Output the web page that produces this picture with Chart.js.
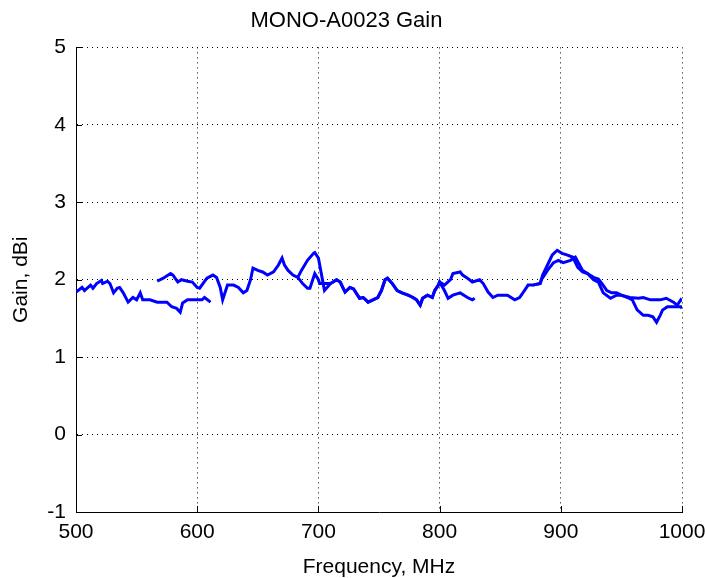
<!DOCTYPE html>
<html>
<head>
<meta charset="utf-8">
<script src="https://cdn.jsdelivr.net/npm/chart.js@4"></script>
<style>
  body { margin: 0; background: #fff; }
</style>
</head>
<body>
<canvas id="myChart" width="705" height="578"></canvas>
<script>
// sweep 1: 500-611 MHz
const freq1 = [500, 505, 507, 512, 514, 517, 521, 522, 526, 528, 531, 534, 536, 539, 543, 547, 550, 553, 555, 561, 567, 575, 579, 583, 586, 588, 592, 600, 604, 606, 611];
const gain1 = [1.84, 1.90, 1.86, 1.93, 1.89, 1.95, 1.99, 1.95, 1.98, 1.95, 1.83, 1.89, 1.90, 1.83, 1.71, 1.77, 1.74, 1.83, 1.74, 1.74, 1.71, 1.71, 1.65, 1.63, 1.58, 1.70, 1.74, 1.74, 1.74, 1.77, 1.71];

// sweep 2: 567-829 MHz
const freq2 = [567, 572, 578, 580, 584, 587, 592, 596, 600, 602, 608, 613, 616, 619, 621, 625, 630, 634, 638, 641, 644, 646, 650, 654, 658, 663, 667, 670, 672, 675, 679, 683, 687, 691, 693, 697, 700, 701, 705, 710, 715, 718, 722, 726, 729, 734, 737, 741, 745, 749, 752, 755, 757, 761, 765, 769, 774, 778, 781, 784, 786, 790, 794, 796, 799, 800, 804, 807, 811, 817, 823, 827, 829];
const gain2 = [1.98, 2.02, 2.08, 2.06, 1.97, 2.00, 1.98, 1.97, 1.90, 1.89, 2.02, 2.06, 2.03, 1.90, 1.74, 1.93, 1.93, 1.90, 1.83, 1.86, 2.00, 2.15, 2.12, 2.10, 2.06, 2.10, 2.19, 2.28, 2.19, 2.12, 2.06, 2.03, 1.95, 1.89, 1.89, 2.08, 2.00, 1.95, 1.95, 1.95, 2.00, 1.97, 1.84, 1.90, 1.88, 1.76, 1.77, 1.71, 1.74, 1.77, 1.86, 2.00, 2.02, 1.95, 1.86, 1.83, 1.80, 1.77, 1.74, 1.67, 1.76, 1.80, 1.77, 1.86, 1.93, 1.97, 1.86, 1.76, 1.80, 1.83, 1.77, 1.74, 1.76];

// sweep 3: 683-1000 MHz
const freq3 = [683, 686, 691, 696, 697, 700, 703, 705, 710, 715, 718, 722, 726, 729, 734, 737, 741, 745, 749, 752, 755, 757, 761, 765, 769, 774, 778, 781, 784, 786, 790, 794, 796, 799, 800, 804, 809, 811, 817, 819, 823, 827, 833, 836, 840, 844, 848, 856, 862, 866, 870, 873, 877, 883, 885, 889, 893, 897, 901, 905, 910, 914, 918, 922, 927, 931, 934, 938, 942, 946, 950, 955, 959, 963, 968, 972, 976, 979, 982, 984, 988, 994, 999, 1000];
const gain3 = [2.03, 2.12, 2.25, 2.34, 2.35, 2.28, 2.03, 1.86, 1.95, 2.00, 1.97, 1.84, 1.90, 1.88, 1.76, 1.77, 1.71, 1.74, 1.77, 1.86, 2.00, 2.02, 1.95, 1.86, 1.83, 1.80, 1.77, 1.74, 1.67, 1.76, 1.80, 1.77, 1.86, 1.93, 1.97, 1.93, 2.00, 2.08, 2.10, 2.06, 2.02, 1.97, 2.00, 1.95, 1.84, 1.77, 1.80, 1.80, 1.74, 1.77, 1.86, 1.93, 1.93, 1.95, 2.06, 2.19, 2.32, 2.38, 2.34, 2.32, 2.29, 2.16, 2.10, 2.08, 2.03, 2.01, 1.95, 1.86, 1.83, 1.83, 1.80, 1.77, 1.74, 1.61, 1.54, 1.54, 1.52, 1.45, 1.54, 1.61, 1.65, 1.65, 1.65, 1.63];

// sweep 4: 877-1000 MHz
const freq4 = [877, 883, 884, 889, 894, 898, 902, 908, 912, 918, 922, 927, 931, 935, 941, 946, 950, 957, 964, 968, 974, 982, 987, 993, 996, 999, 1000];
const gain4 = [1.93, 1.95, 2.00, 2.12, 2.22, 2.25, 2.22, 2.25, 2.29, 2.12, 2.08, 2.00, 1.97, 1.83, 1.76, 1.80, 1.80, 1.77, 1.76, 1.77, 1.74, 1.74, 1.76, 1.71, 1.67, 1.74, 1.72];

const xTicks = [500, 600, 700, 800, 900, 1000];
const yTicks = [-1, 0, 1, 2, 3, 4, 5];

const toPoints = (xs, ys) => xs.map((x, i) => ({ x: x, y: ys[i] }));
const font = { family: "'Liberation Sans', Arial, sans-serif", size: 21 };

// MATLAB style inward tick marks on left and bottom axes
const inwardTicks = {
    id: 'inwardTicks',
    afterDraw(chart) {
        const ctx = chart.ctx;
        const x = chart.scales.x;
        const y = chart.scales.y;
        const area = chart.chartArea;
        ctx.save();
        ctx.strokeStyle = '#000';
        ctx.lineWidth = 1;
        ctx.beginPath();
        xTicks.forEach(v => {
            const px = Math.round(x.getPixelForValue(v)) + 0.5;
            ctx.moveTo(px, area.bottom);
            ctx.lineTo(px, area.bottom - 6);
        });
        yTicks.forEach(v => {
            const py = Math.round(y.getPixelForValue(v)) + 0.5;
            ctx.moveTo(area.left, py);
            ctx.lineTo(area.left + 6, py);
        });
        ctx.stroke();
        ctx.restore();
    }
};

const lineStyle = { borderColor: '#0000ff', borderWidth: 3, pointRadius: 0, tension: 0, fill: false };

new Chart(document.getElementById('myChart'), {
    type: 'line',
    data: {
        datasets: [
            Object.assign({ label: 'sweep 1', data: toPoints(freq1, gain1) }, lineStyle),
            Object.assign({ label: 'sweep 2', data: toPoints(freq2, gain2) }, lineStyle),
            Object.assign({ label: 'sweep 3', data: toPoints(freq3, gain3) }, lineStyle),
            Object.assign({ label: 'sweep 4', data: toPoints(freq4, gain4) }, lineStyle)
        ]
    },
    options: {
        responsive: false,
        animation: false,
        devicePixelRatio: 1,
        layout: { padding: { left: 11, right: 23, top: 0, bottom: 0 } },
        plugins: {
            legend: { display: false },
            tooltip: { enabled: false },
            title: {
                display: true,
                text: 'MONO-A0023 Gain',
                color: '#000',
                font: Object.assign({}, font, { size: 22, weight: 'normal', lineHeight: 1.2 }),
                padding: { top: 8, bottom: 13 }
            }
        },
        scales: {
            x: {
                type: 'linear',
                min: 500,
                max: 1000,
                afterFit: s => { s.height = 66; s.paddingLeft = 0; s.paddingRight = 0; },
                afterBuildTicks: s => { s.ticks = xTicks.map(v => ({ value: v })); },
                ticks: { color: '#000', font: font, padding: 8, maxRotation: 0, callback: v => String(v) },
                grid: { color: '#000', lineWidth: 1, drawTicks: false },
                border: { display: true, color: '#000', width: 1, dash: [1, 4] },
                title: {
                    display: true,
                    text: 'Frequency, MHz',
                    color: '#000',
                    font: Object.assign({}, font, { lineHeight: 1 }),
                    padding: 0
                }
            },
            y: {
                type: 'linear',
                min: -1,
                max: 5,
                afterFit: s => { s.width = 65; s.paddingTop = 0; s.paddingBottom = 0; },
                afterBuildTicks: s => { s.ticks = yTicks.map(v => ({ value: v })); },
                ticks: { color: '#000', font: font, padding: 10, callback: v => String(v) },
                grid: { color: '#000', lineWidth: 1, drawTicks: false },
                border: { display: true, color: '#000', width: 1, dash: [1, 4] },
                title: {
                    display: true,
                    text: 'Gain, dBi',
                    color: '#000',
                    font: Object.assign({}, font, { lineHeight: 1 }),
                    padding: 0
                }
            }
        }
    },
    plugins: [inwardTicks]
});
</script>
</body>
</html>
